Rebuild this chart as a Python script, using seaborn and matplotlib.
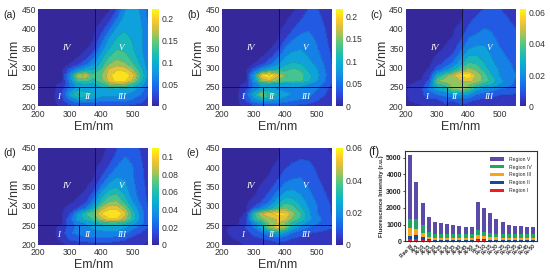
import numpy as np
import pandas as pd
import matplotlib
matplotlib.use("Agg")
import matplotlib.pyplot as plt
from matplotlib.colors import LinearSegmentedColormap
import seaborn as sns

# axes of the EEM maps
em = [200, 250, 275, 300, 325, 350, 375, 400, 425, 450, 475, 500, 525, 550]
ex = [200, 215, 230, 245, 255, 265, 280, 295, 310, 330, 350, 375, 400, 425, 450]

# intensities, one row per Ex value
eem_a = [
    [0, 0, .005, .015, .02, .02, .02, .02, .02, .02, .02, .015, .012, .005],
    [0, 0, .015, .05, .07, .07, .065, .055, .055, .055, .055, .045, .035, .015],
    [0, 0, .025, .085, .125, .115, .10, .085, .08, .08, .075, .065, .05, .025],
    [0, 0, .015, .06, .085, .085, .085, .09, .095, .10, .095, .085, .065, .035],
    [0, 0, .008, .045, .085, .09, .09, .11, .135, .145, .14, .12, .09, .05],
    [0, 0, 0, .06, .125, .13, .115, .135, .18, .205, .20, .165, .11, .06],
    [0, 0, 0, .07, .165, .18, .13, .145, .185, .22, .22, .185, .125, .07],
    [0, 0, 0, .03, .065, .09, .10, .125, .175, .19, .185, .155, .11, .065],
    [0, 0, 0, .002, .015, .04, .07, .105, .145, .16, .15, .125, .095, .06],
    [0, 0, 0, 0, 0, .01, .04, .085, .12, .135, .13, .11, .085, .055],
    [0, 0, 0, 0, 0, 0, .01, .06, .095, .12, .115, .10, .08, .05],
    [0, 0, 0, 0, 0, 0, 0, .035, .075, .10, .105, .095, .08, .05],
    [0, 0, 0, 0, 0, 0, 0, .01, .045, .08, .095, .09, .08, .05],
    [0, 0, 0, 0, 0, 0, 0, 0, .015, .05, .085, .09, .075, .045],
    [0, 0, 0, 0, 0, 0, 0, 0, 0, .025, .07, .085, .07, .04],
]
eem_b = [
    [0, 0, .008, .02, .025, .025, .025, .025, .02, .015, .012, .01, .006, .003],
    [0, 0, .025, .06, .08, .08, .07, .06, .05, .045, .04, .025, .015, .006],
    [0, 0, .04, .09, .155, .115, .10, .08, .07, .06, .055, .04, .025, .012],
    [0, 0, .015, .06, .08, .085, .07, .065, .065, .065, .06, .05, .03, .015],
    [0, 0, .008, .05, .08, .08, .075, .08, .085, .08, .07, .06, .04, .02],
    [0, 0, 0, .07, .145, .165, .14, .13, .13, .125, .10, .075, .05, .025],
    [0, 0, 0, .08, .195, .22, .175, .145, .14, .13, .105, .08, .055, .025],
    [0, 0, 0, .03, .07, .09, .10, .11, .125, .115, .09, .075, .05, .025],
    [0, 0, 0, .002, .015, .04, .065, .09, .10, .095, .08, .065, .045, .022],
    [0, 0, 0, 0, 0, .01, .04, .07, .08, .08, .07, .055, .04, .02],
    [0, 0, 0, 0, 0, 0, .012, .05, .065, .07, .06, .05, .035, .016],
    [0, 0, 0, 0, 0, 0, 0, .022, .045, .055, .055, .045, .03, .012],
    [0, 0, 0, 0, 0, 0, 0, .005, .022, .04, .045, .04, .025, .01],
    [0, 0, 0, 0, 0, 0, 0, 0, .008, .022, .035, .032, .02, .006],
    [0, 0, 0, 0, 0, 0, 0, 0, 0, .01, .025, .026, .015, .004],
]
eem_c = [
    [0, 0, .002, .002, .003, .004, .005, .005, .004, .004, .004, .003, .004, .003],
    [0, .004, .006, .004, .01, .007, .01, .008, .006, .004, .005, .003, .005, .004],
    [0, .006, .009, .014, .016, .022, .024, .022, .014, .011, .009, .007, .007, .006],
    [0, .005, .016, .024, .028, .042, .047, .038, .025, .02, .018, .014, .012, .01],
    [0, .003, .013, .032, .036, .044, .046, .042, .036, .03, .027, .02, .016, .012],
    [0, .001, .009, .042, .044, .042, .048, .05, .046, .039, .032, .023, .018, .013],
    [0, 0, .004, .027, .038, .047, .058, .062, .047, .038, .028, .02, .017, .014],
    [0, 0, .001, .01, .018, .026, .038, .044, .04, .032, .024, .02, .016, .013],
    [0, 0, 0, .004, .009, .016, .026, .036, .034, .028, .022, .018, .015, .012],
    [0, 0, 0, .001, .004, .008, .018, .028, .028, .025, .02, .016, .013, .011],
    [0, 0, 0, 0, .001, .004, .011, .02, .022, .022, .018, .014, .012, .009],
    [0, 0, 0, 0, 0, .001, .006, .014, .016, .017, .015, .012, .01, .008],
    [0, 0, 0, 0, 0, 0, .003, .008, .011, .014, .013, .011, .009, .007],
    [0, 0, 0, 0, 0, 0, 0, .005, .008, .01, .01, .009, .007, .005],
    [0, 0, 0, 0, 0, 0, 0, .002, .005, .007, .008, .007, .006, .003],
]
eem_d = [
    [0, 0, 0, .003, .004, .005, .005, .005, .005, .005, .004, .003, .002, 0],
    [0, 0, .003, .014, .018, .02, .022, .022, .022, .018, .014, .008, .004, .002],
    [0, 0, .006, .022, .028, .032, .035, .033, .033, .033, .028, .018, .012, .006],
    [0, 0, .004, .018, .028, .033, .038, .043, .045, .045, .04, .03, .02, .012],
    [0, 0, .001, .018, .03, .038, .045, .053, .058, .058, .053, .043, .03, .017],
    [0, 0, 0, .02, .042, .052, .063, .08, .095, .095, .078, .058, .033, .014],
    [0, 0, 0, .012, .038, .062, .072, .098, .108, .11, .092, .058, .033, .014],
    [0, 0, 0, .004, .012, .024, .048, .078, .093, .093, .075, .048, .028, .012],
    [0, 0, 0, 0, .003, .01, .03, .058, .074, .076, .058, .038, .022, .01],
    [0, 0, 0, 0, 0, .003, .016, .043, .058, .062, .048, .03, .019, .009],
    [0, 0, 0, 0, 0, 0, .005, .026, .042, .048, .04, .028, .018, .008],
    [0, 0, 0, 0, 0, 0, 0, .012, .026, .036, .035, .026, .016, .007],
    [0, 0, 0, 0, 0, 0, 0, .003, .014, .025, .03, .025, .015, .006],
    [0, 0, 0, 0, 0, 0, 0, 0, .006, .016, .025, .022, .013, .005],
    [0, 0, 0, 0, 0, 0, 0, 0, .002, .011, .021, .02, .011, .003],
]
eem_e = [
    [0, 0, .001, .002, .003, .003, .004, .004, .003, .003, .003, .002, .002, .002],
    [0, .001, .003, .005, .006, .008, .01, .009, .006, .005, .004, .003, .003, .003],
    [0, .002, .005, .008, .013, .019, .026, .021, .013, .009, .007, .006, .005, .004],
    [0, .002, .007, .014, .026, .042, .053, .042, .026, .018, .014, .011, .009, .007],
    [0, 0, .006, .016, .027, .042, .047, .04, .03, .024, .018, .014, .011, .007],
    [0, 0, .004, .03, .038, .044, .047, .048, .038, .032, .022, .016, .012, .007],
    [0, 0, .001, .032, .047, .052, .056, .055, .042, .034, .022, .014, .01, .006],
    [0, 0, 0, .008, .016, .024, .032, .04, .036, .028, .02, .014, .01, .006],
    [0, 0, 0, .002, .007, .014, .024, .032, .03, .024, .018, .013, .009, .005],
    [0, 0, 0, 0, .003, .008, .016, .023, .023, .02, .015, .011, .007, .005],
    [0, 0, 0, 0, .001, .004, .01, .016, .018, .017, .013, .009, .006, .004],
    [0, 0, 0, 0, 0, .001, .005, .01, .012, .013, .01, .007, .005, .003],
    [0, 0, 0, 0, 0, 0, .002, .006, .008, .009, .008, .006, .004, .002],
    [0, 0, 0, 0, 0, 0, 0, .003, .005, .006, .006, .005, .002, .001],
    [0, 0, 0, 0, 0, 0, 0, .002, .003, .004, .005, .003, .001, 0],
]

# bar panel, stacked regions
samples = ["Raw W", "Al-5", "Al-10", "Al-15", "Al-20", "Al-25", "Al-30", "Al-35", "Al-40", "Al-45", "Al-50",
           "Fe-5", "Fe-10", "Fe-15", "Fe-20", "Fe-25", "Fe-30", "Fe-35", "Fe-40", "Fe-45", "Fe-50"]
region_1 = [110, 130, 90, 50, 40, 35, 35, 35, 35, 35, 35, 60, 50, 45, 40, 40, 35, 35, 45, 40, 35]
region_2 = [210, 220, 140, 60, 50, 45, 45, 45, 45, 45, 45, 70, 60, 55, 50, 45, 45, 45, 45, 45, 45]
region_3 = [500, 380, 260, 150, 130, 130, 130, 130, 130, 130, 130, 220, 190, 170, 140, 130, 130, 130, 120, 130, 130]
region_4 = [540, 610, 470, 310, 240, 230, 230, 220, 220, 200, 200, 300, 260, 240, 230, 225, 210, 210, 210, 200, 200]
region_5 = [3790, 2210, 1340, 910, 690, 660, 610, 520, 490, 460, 460, 1730, 1440, 1190, 880, 740, 530, 510, 480, 435, 420]

parula = ["#35289a", "#2f45dc", "#1670ea", "#1492e4", "#08b0d4", "#25c0a8", "#62c878",
          "#c4c048", "#fdc62e", "#f9fb0e"]

sns.set_theme(style="white")
plt.rcParams["font.family"] = ["Liberation Sans", "DejaVu Sans"]
cmap = LinearSegmentedColormap.from_list("parula", parula)

fig = plt.figure(figsize=(5.5, 2.73), dpi=100)
W, H = 550.0, 273.0


def box(x0, y0, x1, y1):
    return [x0 / W, 1 - y1 / H, (x1 - x0) / W, (y1 - y0) / H]


def eem_panel(grid, x0, y0, vmax, ticks, ticklabels, letter):
    ax = fig.add_axes(box(x0, y0, x0 + 110, y0 + 97))
    cax = fig.add_axes(box(x0 + 114, y0, x0 + 120.5, y0 + 97))
    levels = np.linspace(0, vmax, 10)
    levels[0] = vmax * 0.012
    ax.set_facecolor(parula[0])
    ax.contourf(em, ex, grid, levels=levels, cmap=cmap, vmin=0, vmax=vmax, extend="max")
    ax.contour(em, ex, grid, levels=levels, colors="#1c2340", linewidths=0.3, alpha=0.35)
    ax.axvline(380, color="#15153a", lw=0.7)
    ax.axhline(250, color="#15153a", lw=0.7)
    ax.plot([330, 330], [200, 250], color="#15153a", lw=0.7)
    for lab, x, y in [("I", 265, 225), ("II", 355, 225), ("III", 465, 225), ("IV", 290, 350), ("V", 465, 350)]:
        ax.text(x, y, lab, color="white", fontsize=6.5, style="italic", family="Liberation Serif",
                ha="center", va="center")
    ax.set_xlim(200, 550)
    ax.set_ylim(200, 450)
    ax.set_xticks([200, 300, 400, 500])
    ax.set_yticks([200, 250, 300, 350, 400, 450])
    ax.tick_params(axis="x", length=0, pad=2.5, labelsize=6.2, colors="#333333")
    ax.tick_params(axis="y", length=0, pad=1.5, labelsize=6.2, colors="#333333")
    ax.set_xlabel("Em/nm", fontsize=9, color="#333333", labelpad=1.5)
    ax.set_ylabel("Ex/nm", fontsize=9, color="#333333", labelpad=1)
    for s in ax.spines.values():
        s.set_visible(False)
    sm = plt.cm.ScalarMappable(norm=plt.Normalize(0, vmax), cmap=cmap)
    cb = fig.colorbar(sm, cax=cax)
    cb.set_ticks(ticks)
    cb.set_ticklabels(ticklabels)
    cb.ax.tick_params(length=0, pad=2, labelsize=6.2, colors="#333333")
    cb.outline.set_visible(False)
    fig.text((x0 - 29) / W, 1 - (y0 + 5.5) / H, letter, fontsize=7.5, color="#222222", ha="center", va="center")


eem_panel(eem_a, 38.3, 9.3, 0.22, [0, .05, .1, .15, .2], ["0", "0.05", "0.1", "0.15", "0.2"], "(a)")
eem_panel(eem_b, 222.3, 9.3, 0.215, [0, .05, .1, .15, .2], ["0", "0.05", "0.1", "0.15", "0.2"], "(b)")
eem_panel(eem_c, 405.7, 9.3, 0.062, [0, .02, .04, .06], ["0", "0.02", "0.04", "0.06"], "(c)")
eem_panel(eem_d, 38.3, 147.7, 0.11, [0, .02, .04, .06, .08, .1], ["0", "0.02", "0.04", "0.06", "0.08", "0.1"], "(d)")
eem_panel(eem_e, 222.3, 147.7, 0.06, [0, .02, .04, .06], ["0", "0.02", "0.04", "0.06"], "(e)")

# stacked bars
ax = fig.add_axes(box(405.3, 150.7, 537, 241.3))
regions = [("Region I", region_1, "#ee1c25"), ("Region II", region_2, "#0f4c9c"),
           ("Region III", region_3, "#f9a51a"), ("Region IV", region_4, "#1fa564"),
           ("Region V", region_5, "#5c4aa8")]
bottom = np.zeros(len(samples))
for name, vals, color in regions:
    df = pd.DataFrame({"sample": samples, "value": vals})
    sns.barplot(data=df, x="sample", y="value", color=color, bottom=bottom, width=0.65,
                saturation=1, linewidth=0, label=name, ax=ax, legend=False)
    bottom = bottom + np.array(vals)
ax.set_xlim(-0.8, 20.6)
ax.set_ylim(0, 5420)
ax.set_yticks([0, 1000, 2000, 3000, 4000, 5000])
ax.tick_params(axis="y", length=1.5, width=0.6, pad=1, labelsize=5, left=True)
ax.tick_params(axis="x", length=1, width=0.5, pad=0.5, labelsize=3.5, bottom=True)
for t in ax.get_yticklabels():
    t.set_fontweight("bold")
for t in ax.get_xticklabels():
    t.set_rotation(45)
    t.set_ha("right")
    t.set_rotation_mode("anchor")
    t.set_fontweight("bold")
ax.set_xlabel("")
ax.set_ylabel("Fluorescence Intensity (r.u.)", fontsize=4.4, fontweight="bold", labelpad=1.5)
for s in ax.spines.values():
    s.set_linewidth(0.8)
    s.set_color("#333333")
handles, labels = ax.get_legend_handles_labels()
ax.legend(handles[::-1], labels[::-1], frameon=False, fontsize=3.7, loc="upper right",
          bbox_to_anchor=(0.995, 0.985), labelspacing=0.55, handlelength=2.6, handleheight=0.6, handletextpad=1.0)
fig.text(374 / W, 1 - 152 / H, "(f)", fontsize=8.5, color="#222222", ha="center", va="center")

fig.savefig("out.png", dpi=100)
